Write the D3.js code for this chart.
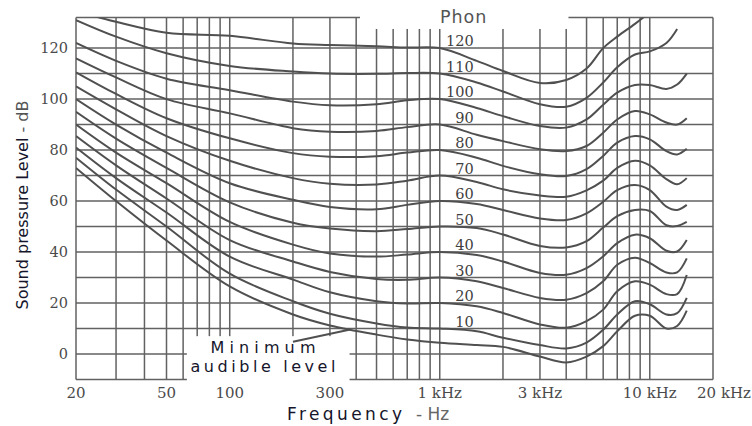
<!DOCTYPE html>
<html>
<head>
<meta charset="utf-8">
<script src="https://cdn.jsdelivr.net/npm/d3@7"></script>
<style>
  body { margin: 0; background: #fff; }
</style>
</head>
<body>
<div id="chart"></div>
<script>
// sample frequencies (Hz) of the contours
const freqs = [20, 30, 50, 100, 200, 300, 500, 700, 1000, 1500, 2000, 3000, 4000, 5000, 6000, 7000, 8500, 10000, 12000, 13500, 15000];

// sound pressure level (dB) of each equal loudness contour, null where the line stops
const phon120 = [134.5, 130.3, 126, 124.8, 121.8, 121.2, 120.7, 120.2, 120, 115, 111, 106.3, 107.5, 112, 120, 124.5, 129.5, 134, null, null, null];
const phon110 = [131, 124.5, 118, 113, 110.8, 110, 109.9, 110.2, 110, 106.5, 103, 98, 97, 100.5, 106.5, 112.5, 117.5, 118.7, 122, 127.5, null];
const phon100 = [122, 115, 108, 103.5, 99, 97.6, 98, 99.5, 100, 96.5, 93.3, 89.4, 88.8, 92, 97.8, 102.5, 105.5, 105.5, 104, 105.7, 110];
const phon90 = [116, 108.5, 100, 94.4, 88.6, 87.2, 87.5, 89, 90, 86, 83.5, 80.3, 79.6, 81.6, 86.8, 92, 95.3, 94, 90.8, 90, 92.5];
const phon80 = [110.5, 102, 92.5, 84.6, 78.8, 77.4, 77.6, 79, 80, 77, 73.8, 70.5, 69.8, 72.5, 77.7, 82.9, 85.5, 84.2, 79.6, 78.3, 80.5];
const phon70 = [105, 96, 85.5, 75.8, 69, 66.8, 66.5, 68, 70, 67.5, 64.6, 62.2, 61.7, 64.2, 68, 73, 75.8, 74, 68.6, 66.6, 69];
const phon60 = [100, 90, 79, 67, 60.5, 57.7, 56.8, 58.5, 60, 58.8, 56.5, 53.2, 52.6, 55.2, 59.7, 64.3, 66.3, 64.3, 57.8, 56.5, 58.5];
const phon50 = [95, 84.5, 73, 59.5, 51.5, 49.2, 48.2, 49, 50, 49.4, 46.9, 42.4, 41.8, 44.3, 49.6, 54.1, 56.5, 56.1, 50.5, 50.2, 51.8];
const phon40 = [90, 79, 67, 51.8, 42.9, 39.4, 38.2, 39, 40, 38.8, 36.3, 31.8, 31.1, 33.7, 38.3, 43.5, 46.8, 45.4, 40.5, 40.2, 44.7];
const phon30 = [85.5, 74, 61, 44.7, 36.3, 32.2, 29.4, 29.1, 30, 28.5, 25.9, 22, 21.3, 23.9, 28.5, 35, 37.8, 35.7, 32, 32, 37.5];
const phon20 = [81, 69, 55.5, 38.2, 29.2, 24.2, 20.7, 19.8, 20, 18.7, 16.1, 11.6, 10.3, 12.9, 17.4, 24.6, 28.5, 27.2, 23.5, 23.5, 31];
const phon10 = [77, 64.5, 50, 31.5, 20.7, 15.8, 12, 10.4, 10, 8.9, 6.4, 3.5, 2.2, 4.5, 9.5, 15.5, 20.7, 19.5, 15.5, 16, 22];
const minAudible = [73, 60, 44.5, 26.5, 15.5, 11.2, 7.6, 5.7, 4.4, 3.5, 2.8, -1, -3.3, -1, 3.1, 8.9, 15, 15, 10, 11, 17];

const phonLevels = [120, 110, 100, 90, 80, 70, 60, 50, 40, 30, 20, 10];

// tick labels
const yTicks = [0, 20, 40, 60, 80, 100, 120];
const xTicks = [20, 50, 100, 300, 1000, 3000, 10000, 20000];
const xTickLabels = ["20", "50", "100", "300", "1 kHz", "3 kHz", "10 kHz", "20 kHz"];

const width = 752, height = 426;
const margin = {top: 17.5, right: 39, bottom: 46.5, left: 76};
const dbMin = -10, dbMax = 132;

// the printed chart stretches its lowest decade a bit, hence the piecewise log scale
const x = d3.scaleLog()
    .domain([20, 50, 20000])
    .range([margin.left, 166.5, width - margin.right]);
const y = d3.scaleLinear()
    .domain([dbMin, dbMax])
    .range([height - margin.bottom, margin.top]);

const svg = d3.select("#chart").append("svg")
    .attr("width", width)
    .attr("height", height);

svg.append("defs").append("clipPath")
    .attr("id", "plotClip")
    .append("rect")
    .attr("x", x(20))
    .attr("y", y(dbMax))
    .attr("width", x(20000) - x(20))
    .attr("height", y(dbMin) - y(dbMax));

// grid, the outer lines double as the frame
const gridG = svg.append("g")
    .attr("stroke", "#626262")
    .attr("stroke-width", 1.5);

gridG.selectAll(".vLine")
    .data(x.ticks())
    .join("line")
    .attr("class", "vLine")
    .attr("x1", d => x(d))
    .attr("x2", d => x(d))
    .attr("y1", y(dbMin))
    .attr("y2", y(dbMax));

gridG.selectAll(".hLine")
    .data(d3.range(dbMin, 121, 10).concat([dbMax]))
    .join("line")
    .attr("class", "hLine")
    .attr("x1", x(20))
    .attr("x2", x(20000))
    .attr("y1", d => y(d))
    .attr("y2", d => y(d));

// blank patches behind the "Phon" header and the threshold label
const blankBoxes = [
    {f0: 417, f1: 4100, db0: 127.5, db1: 136},
    {f0: 62.5, f1: 372, db0: -13, db1: 7}
];
svg.selectAll(".blank")
    .data(blankBoxes)
    .join("rect")
    .attr("class", "blank")
    .attr("x", d => x(d.f0))
    .attr("y", d => y(d.db1))
    .attr("width", d => x(d.f1) - x(d.f0))
    .attr("height", d => y(d.db0) - y(d.db1))
    .attr("fill", "#fff");

const contours = [
    {phon: 120, db: phon120},
    {phon: 110, db: phon110},
    {phon: 100, db: phon100},
    {phon: 90, db: phon90},
    {phon: 80, db: phon80},
    {phon: 70, db: phon70},
    {phon: 60, db: phon60},
    {phon: 50, db: phon50},
    {phon: 40, db: phon40},
    {phon: 30, db: phon30},
    {phon: 20, db: phon20},
    {phon: 10, db: phon10},
    {phon: null, db: minAudible}
];

const line = d3.line()
    .defined(d => d[1] != null)
    .x(d => x(d[0]))
    .y(d => y(d[1]))
    .curve(d3.curveCatmullRom.alpha(0.5));

svg.append("g")
    .attr("clip-path", "url(#plotClip)")
    .selectAll(".contour")
    .data(contours)
    .join("path")
    .attr("class", "contour")
    .attr("d", c => line(freqs.map((f, i) => [f, c.db[i]])))
    .attr("fill", "none")
    .attr("stroke", "#505050")
    .attr("stroke-width", 2);

// pointer from the label to the threshold curve
const pointer = [[200, 4.8], [375, 9.6]];
svg.append("line")
    .attr("x1", x(pointer[0][0]))
    .attr("y1", y(pointer[0][1]))
    .attr("x2", x(pointer[1][0]))
    .attr("y2", y(pointer[1][1]))
    .attr("stroke", "#505050")
    .attr("stroke-width", 2);

// phon values, right of the 1 kHz line
svg.selectAll(".phonLabel")
    .data(phonLevels)
    .join("text")
    .attr("class", "phonLabel")
    .attr("x", x(1450))
    .attr("y", d => y(d) - 2)
    .attr("text-anchor", "end")
    .attr("font-family", "DejaVu Serif")
    .attr("font-size", 14.5)
    .attr("fill", "#404040")
    .text(d => d);

svg.append("text")
    .attr("x", x(1300))
    .attr("y", y(130))
    .attr("text-anchor", "middle")
    .attr("font-family", "DejaVu Sans")
    .attr("font-size", 17.5)
    .attr("letter-spacing", 1)
    .attr("fill", "#555")
    .text("Phon");

// axis tick labels
svg.selectAll(".yTick")
    .data(yTicks)
    .join("text")
    .attr("class", "yTick")
    .attr("x", x(20) - 8)
    .attr("y", d => y(d))
    .attr("dy", "0.36em")
    .attr("text-anchor", "end")
    .attr("font-family", "DejaVu Serif")
    .attr("font-size", 14.5)
    .attr("fill", "#4a4a4a")
    .text(d => d);

// the last label sits right of the frame and ends at the page edge
svg.selectAll(".xTick")
    .data(xTicks)
    .join("text")
    .attr("class", "xTick")
    .attr("x", d => d === 20000 ? width - 1 : x(d))
    .attr("y", y(dbMin) + 18)
    .attr("text-anchor", d => d === 20000 ? "end" : "middle")
    .attr("font-family", "DejaVu Serif")
    .attr("font-size", 15)
    .attr("fill", "#4a4a4a")
    .text((d, i) => xTickLabels[i]);

// threshold label
const mafText = svg.append("g")
    .attr("font-family", "DejaVu Sans")
    .attr("font-size", 16)
    .attr("fill", "#15152b")
    .attr("text-anchor", "middle");
mafText.append("text")
    .attr("x", x(144))
    .attr("y", y(0.3))
    .attr("textLength", 105)
    .text("Minimum");
mafText.append("text")
    .attr("x", x(144))
    .attr("y", y(-6.9))
    .attr("textLength", 145)
    .text("audible level");

// axis titles
const yTitle = svg.append("text")
    .attr("transform", "translate(28,205) rotate(-90)")
    .attr("text-anchor", "middle")
    .attr("font-family", "DejaVu Sans")
    .attr("font-size", 16);
yTitle.append("tspan").attr("fill", "#15152b").text("Sound pressure Level");
yTitle.append("tspan").attr("fill", "#555").text("  -  dB");

svg.append("text")
    .attr("x", 287)
    .attr("y", 420)
    .attr("font-family", "DejaVu Sans")
    .attr("font-size", 17)
    .attr("textLength", 115)
    .attr("fill", "#15152b")
    .text("Frequency");
svg.append("text")
    .attr("x", 416)
    .attr("y", 420)
    .attr("font-family", "DejaVu Sans")
    .attr("font-size", 17)
    .attr("fill", "#666")
    .text("-  Hz");
</script>
</body>
</html>
